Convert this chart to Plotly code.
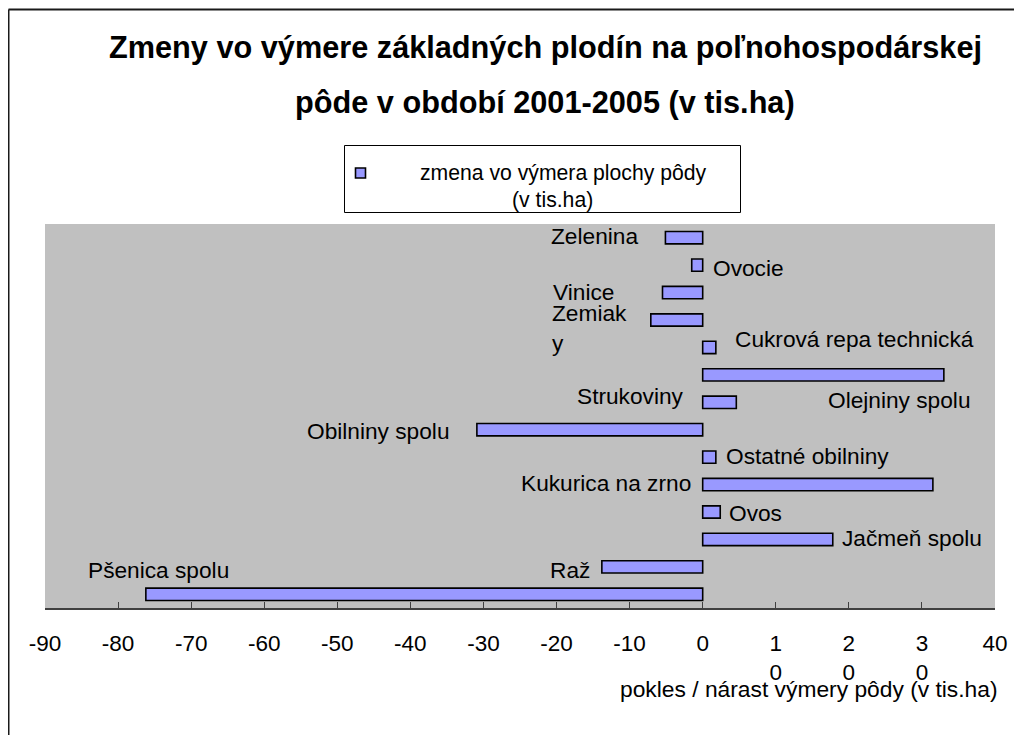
import plotly.graph_objects as go

# ---------------- data ----------------
crops = ["Zelenina", "Ovocie", "Vinice", "Zemiaky", "Cukrová repa technická",
         "Olejniny spolu", "Strukoviny", "Obilniny spolu", "Ostatné obilniny",
         "Kukurica na zrno", "Ovos", "Jačmeň spolu", "Raž", "Pšenica spolu"]
change = [-5.1, -1.5, -5.5, -7.1, 1.8, 33.0, 4.6, -30.9, 1.8, 31.5, 2.4, 17.8, -13.8, -76.2]
label_text = ["Zelenina", "Ovocie", "Vinice", "Zemiak<br>y", "Cukrová repa technická",
              "Olejniny spolu", "Strukoviny", "Obilniny spolu", "Ostatné obilniny",
              "Kukurica na zrno", "Ovos", "Jačmeň spolu", "Raž", "Pšenica spolu"]
tick_vals = [-90, -80, -70, -60, -50, -40, -30, -20, -10, 0, 10, 20, 30, 40]
tick_text = ["-90", "-80", "-70", "-60", "-50", "-40", "-30", "-20", "-10", "0",
             "1<br>0", "2<br>0", "3<br>0", "40"]
title_lines = ["Zmeny vo výmere základných plodín na poľnohospodárskej",
               "pôde v období 2001-2005 (v tis.ha)"]
legend_lines = ["zmena vo výmera plochy pôdy", "(v tis.ha)"]
x_title = "pokles / nárast výmery pôdy (v tis.ha)"

# ---------------- styling ----------------
W, H = 1022, 735
OFF = 8                      # page body margin in the browser
PL, PT, PR, PB = 45, 224, 995, 608   # plot area on screen
L, T = PL - OFF, PT - OFF
R = W - (PR - OFF)
B = H - (PB - OFF)
FONT = "Arial, 'Liberation Sans', sans-serif"
BAR_FILL = "#9999FF"
PLOT_BG = "#C0C0C0"

# label placement: (anchor on 'end' of bar or 'base' (0), xanchor, xshift, yshift)
label_style = [
    ("end", "right", -25, 2),
    ("base", "left", 8, -3),
    ("end", "right", -47, 1),
    ("end", "right", -22, -8),
    ("end", "left", 17, 8),
    ("end", "right", 29, -25),
    ("base", "right", -17, 6),
    ("end", "right", -25, -1),
    ("end", "left", 8, 1),
    ("base", "right", -10, 2),
    ("end", "left", 7, -1),
    ("end", "left", 7, 1),
    ("end", "right", -10, -3),
    ("end", "left", -60, 24),
]


def px_x(px):
    return (px - PL) / (PR - PL)


def px_y(py):
    return (PB - py) / (PB - PT)


fig = go.Figure()
fig.add_trace(go.Bar(
    x=change, y=crops, orientation="h",
    marker=dict(color=BAR_FILL, line=dict(color="black", width=1.6)),
    width=0.45, showlegend=False, hoverinfo="x+y",
))

annotations = []
for name, val, txt, (anc, xa, xs, ys) in zip(crops, change, label_text, label_style):
    annotations.append(dict(
        x=val if anc == "end" else 0, y=name, xref="x", yref="y",
        text=txt, showarrow=False, xanchor=xa, yanchor="middle",
        align="left", xshift=xs, yshift=ys,
        font=dict(family=FONT, size=22.7, color="black"),
    ))

# title (two lines with Excel-like spacing)
for line, py in zip(title_lines, [47, 102]):
    annotations.append(dict(
        x=px_x(545), y=px_y(py), xref="paper", yref="paper",
        text="<b>%s</b>" % line, showarrow=False, xanchor="center", yanchor="middle",
        font=dict(family=FONT, size=30.7, color="black"),
    ))

# legend text
for line, cx, cy in zip(legend_lines, [563, 552], [173, 200]):
    annotations.append(dict(
        x=px_x(cx), y=px_y(cy), xref="paper", yref="paper",
        text=line, showarrow=False, xanchor="center", yanchor="middle",
        font=dict(family=FONT, size=21.2, color="black"),
    ))

# x axis title
annotations.append(dict(
    x=px_x(809), y=px_y(689), xref="paper", yref="paper",
    text=x_title, showarrow=False, xanchor="center", yanchor="middle",
    font=dict(family=FONT, size=22.8, color="black"),
))

shapes = [
    # outer chart border (left + top visible)
    dict(type="line", xref="paper", yref="paper",
         x0=px_x(8.5), x1=px_x(8.5), y0=px_y(9.5), y1=px_y(760),
         line=dict(color="#1a1a1a", width=2)),
    dict(type="line", xref="paper", yref="paper",
         x0=px_x(8.5), x1=px_x(1040), y0=px_y(9.5), y1=px_y(9.5),
         line=dict(color="#1a1a1a", width=2)),
    # legend box
    dict(type="rect", xref="paper", yref="paper",
         x0=px_x(344.5), x1=px_x(740.5), y0=px_y(145.5), y1=px_y(212.5),
         line=dict(color="black", width=1), fillcolor="white"),
    # legend key
    dict(type="rect", xref="paper", yref="paper",
         x0=px_x(355.5), x1=px_x(365.5), y0=px_y(168), y1=px_y(178),
         line=dict(color="black", width=1.6), fillcolor=BAR_FILL),
]

fig.update_layout(
    width=W, height=H,
    margin=dict(l=L, r=R, t=T, b=B, pad=0),
    paper_bgcolor="white", plot_bgcolor=PLOT_BG,
    font=dict(family=FONT, size=22, color="black"),
    annotations=annotations, shapes=shapes,
    showlegend=False,
    xaxis=dict(
        range=[-90, 40], tickmode="array", tickvals=tick_vals, ticktext=tick_text,
        showgrid=False, zeroline=False, showline=True, linecolor="#404040", linewidth=1.5,
        ticks="inside", ticklen=6, tickwidth=1, tickcolor="#404040",
        tickfont=dict(family=FONT, size=22.5, color="black"),
        ticklabelstandoff=14, fixedrange=True,
    ),
    yaxis=dict(
        categoryorder="array", categoryarray=crops,
        range=[len(crops) - 0.5, -0.5], autorange=False,
        showticklabels=False, showgrid=False, zeroline=False, showline=False,
        ticks="", fixedrange=True,
    ),
)

fig.write_html("out.html")
